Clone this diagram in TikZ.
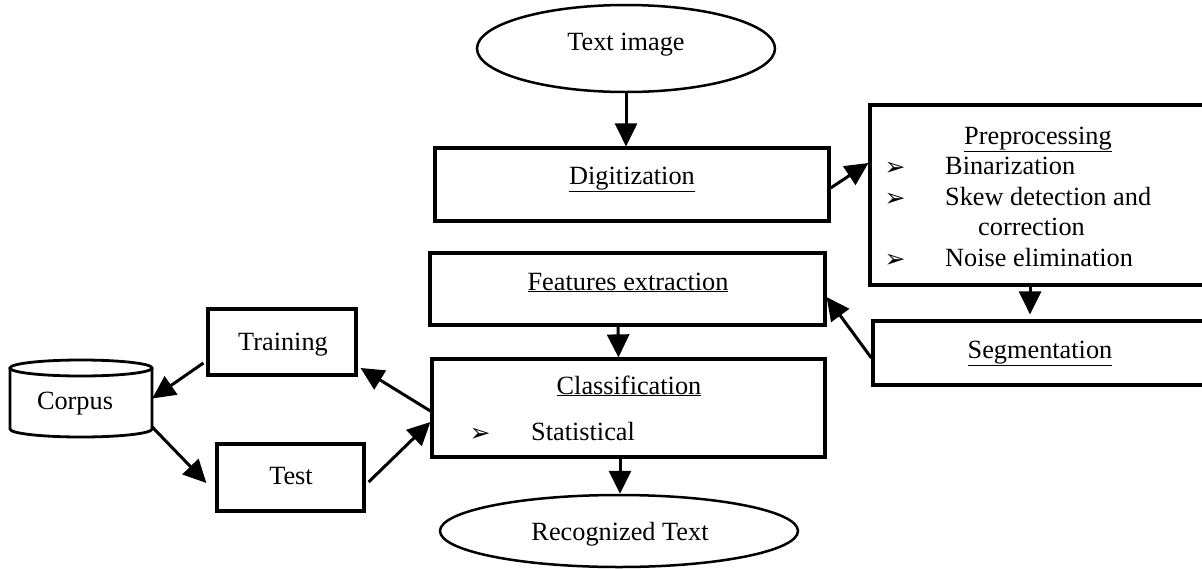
\documentclass[tikz,border=0pt]{standalone}
\usepackage{fontspec}
\setmainfont{Liberation Serif}
\newfontfamily\dejavu{DejaVu Sans}
\usetikzlibrary{arrows.meta,shapes.geometric}
\begin{document}
\begin{tikzpicture}[x=1pt,y=-1pt,
  box/.style={draw, line width=3.2pt, rectangle, inner sep=0pt},
  ell/.style={draw, line width=2.5pt, ellipse, inner sep=0pt},
  arr/.style={line width=3pt, -{Triangle[length=23pt,width=22pt]}},
  txt/.style={anchor=base, inner sep=0pt, font=\fontsize{26.3}{31}\selectfont},
  ltxt/.style={anchor=base west, inner sep=0pt, font=\fontsize{26.3}{31}\selectfont},
  bul/.style={anchor=base, inner sep=0pt, font=\dejavu\fontsize{25}{25}\selectfont}]
\useasboundingbox (0,0) rectangle (1202,568);
\clip (0,0) rectangle (1202,568);
% shapes
\node[ell, minimum width=298pt, minimum height=87pt] (img) at (626,48.5) {};
\node[box, minimum width=394pt, minimum height=73pt] (dig) at (632,184.5) {};
\node[box, minimum width=340pt, minimum height=180pt] (pre) at (1040,195) {};
\node[box, minimum width=395pt, minimum height=72pt] (feat) at (627.5,289) {};
\node[box, minimum width=342pt, minimum height=64pt] (seg) at (1044,353) {};
\node[box, minimum width=393pt, minimum height=98pt] (cls) at (628.5,408) {};
\node[ell, minimum width=358pt, minimum height=72pt] (rec) at (619,531) {};
\node[box, minimum width=148pt, minimum height=66pt] (train) at (282,342) {};
\node[box, minimum width=147pt, minimum height=67pt] (test) at (290.5,477.5) {};
\node[rectangle, inner sep=0pt, minimum width=142pt, minimum height=77pt] (corpus) at (81,398.5) {};
% cylinder
\draw[line width=2.8pt] (10,368) -- (10,429) arc[start angle=180, end angle=360, x radius=71pt, y radius=8pt] -- (152,368);
\draw[line width=2.8pt] (81,368) ellipse[x radius=71pt, y radius=8pt];
% texts
\node[txt] (t-img) at (626,50) {Text image};
\node[txt] (t-dig) at (632,184) {\underline{Digitization}};
\node[txt] (t-pre) at (1038,144) {\underline{Preprocessing}};
\node[bul] (b1) at (895,175) {➢};
\node[ltxt] (t-bin) at (945,174) {Binarization};
\node[bul] (b2) at (895,206) {➢};
\node[ltxt] (t-skew) at (945,205) {Skew detection and};
\node[ltxt] (t-corr) at (978,235) {correction};
\node[bul] (b3) at (895,267) {➢};
\node[ltxt] (t-noise) at (945,266) {Noise elimination};
\node[txt] (t-feat) at (628,290) {\underline{Features extraction}};
\node[txt] (t-seg) at (1040,358) {\underline{Segmentation}};
\node[txt] (t-cls) at (629,394) {\underline{Classification}};
\node[bul] (b4) at (480,441) {➢};
\node[ltxt] (t-stat) at (531,440) {Statistical};
\node[txt] (t-train) at (283,350) {Training};
\node[txt] (t-test) at (291,484) {Test};
\node[txt] (t-corpus) at (75,409) {Corpus};
\node[txt] (t-rec) at (620,540) {Recognized Text};
% connectors
\draw[arr] (img.south) -- (img.south |- dig.north);
\draw[arr] ([yshift=-3.5pt]dig.east) -- ([yshift=32pt]pre.west);
\draw[arr] ([xshift=-10pt]pre.south) -- ([xshift=-14pt,yshift=5pt]seg.north);
\draw[arr] ([yshift=-5pt]seg.west) -- ([yshift=-8pt]feat.east);
\draw[arr] ([xshift=-9.5pt]feat.south) -- ([xshift=-10pt]cls.north);
\draw[arr] ([xshift=-8.5pt]cls.south) -- ([xshift=-8.5pt]cls.south |- rec.north);
\draw[arr] ([yshift=-3pt]cls.west) -- ([xshift=3pt,yshift=-26pt]train.east);
\draw[arr] ([xshift=3pt,yshift=-4.5pt]test.east) -- ([yshift=-14pt]cls.west);
\draw[arr] ([xshift=-3pt,yshift=-21pt]train.west) -- (corpus.east);
\draw[arr] ([yshift=-28.5pt]corpus.east) -- ([xshift=-9pt,yshift=-5.5pt]test.west);
\end{tikzpicture}
\end{document}
